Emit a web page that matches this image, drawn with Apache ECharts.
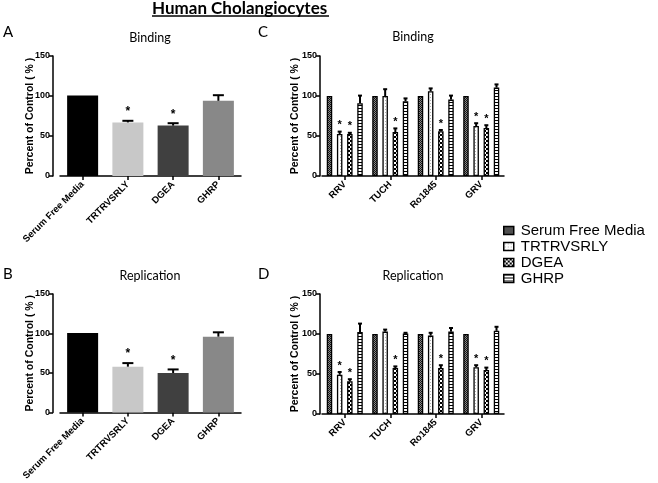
<!DOCTYPE html>
<html><head><meta charset="utf-8">
<script src="https://cdn.jsdelivr.net/npm/echarts@6/dist/echarts.min.js"></script>
<style>html,body{margin:0;padding:0;background:#fff}#c{width:658px;height:483px}</style>
</head><body><div id="c"></div>
<script>
// ---------- DATA ----------
const simpleCats = ['Serum Free Media', 'TRTRVSRLY', 'DGEA', 'GHRP'];
const bindA = [100.5, 67, 63, 94];
const bindAUpper = [100.5, 69, 66, 101];
const bindASig = [0, 1, 1, 0];
const repB = [100.5, 58, 50, 96];
const repBUpper = [100.5, 62.5, 54.5, 101.5];
const repBSig = [0, 1, 1, 0];

const strains = ['RRV', 'TUCH', 'Ro1845', 'GRV'];
const treatments = ['Serum Free Media', 'TRTRVSRLY', 'DGEA', 'GHRP'];

const bindC_SFM = [100, 100, 100, 100];
const bindC_TRT = [52.5, 100, 106, 62.5];
const bindC_DGEA = [52.5, 55, 56, 60];
const bindC_GHRP = [91, 93.5, 95.5, 110.5];
const bindCUp_SFM = [100, 100, 100, 100];
const bindCUp_TRT = [55.5, 108.5, 109.5, 66];
const bindCUp_DGEA = [54, 59.5, 57.5, 63.5];
const bindCUp_GHRP = [100.5, 97, 100.5, 114.5];

const repD_SFM = [100, 100, 100, 100];
const repD_TRT = [49, 103, 98, 58.5];
const repD_DGEA = [41, 57.5, 57.5, 55];
const repD_GHRP = [102.5, 100.5, 103, 104];
const repDUp_SFM = [100, 100, 100, 100];
const repDUp_TRT = [52.5, 105.5, 101.5, 61];
const repDUp_DGEA = [43.5, 59.5, 61, 58];
const repDUp_GHRP = [113, 101.5, 107.5, 109];

const sig_SFM = [0, 0, 0, 0];
const sig_TRT = [1, 0, 0, 1];
const sig_DGEA = [1, 1, 1, 1];
const sig_GHRP = [0, 0, 0, 0];

const yTicks = [0, 50, 100, 150];

// ---------- STYLE ----------
function pat(w, h, draw) {
  const c = document.createElement('canvas');
  c.width = w; c.height = h;
  const g = c.getContext('2d');
  draw(g);
  return { image: c, repeat: 'repeat' };
}
const patSFM = pat(2, 2, g => { g.fillStyle = '#8a8a8a'; g.fillRect(0,0,2,2); g.fillStyle = '#151515'; g.fillRect(0,0,1,1); g.fillRect(1,1,1,1); });
const patTRT = pat(3, 3, g => { g.fillStyle = '#fff'; g.fillRect(0,0,3,3); g.fillStyle = '#b0b0b0'; g.fillRect(1,1,1,1); });
const patDGEA = pat(4, 4, g => { g.fillStyle = '#000'; g.fillRect(0,0,4,4); g.fillStyle = '#fff'; g.fillRect(0,0,2,2); g.fillRect(2,2,2,2); });
const patGHRP = pat(1, 3, g => { g.fillStyle = '#fff'; g.fillRect(0,0,1,3); g.fillStyle = '#000'; g.fillRect(0,0,1,1); });
const patterns = [patSFM, patTRT, patDGEA, patGHRP];
const solidColors = ['#000000', '#c8c8c8', '#404040', '#888888'];

const AX = '"Liberation Sans", Arial, sans-serif';
const CAL = 'Lato, "Open Sans", sans-serif';

function yAxisCfg(gi, off, gap) {
  return {
    type: 'value', gridIndex: gi, min: yTicks[0], max: yTicks[yTicks.length - 1], interval: 50, offset: off,
    name: 'Percent of Control ( % )', nameLocation: 'middle', nameGap: gap, nameMoveOverlap: false,
    nameTextStyle: { fontFamily: AX, fontWeight: 'bold', fontSize: 10.5, color: '#000' },
    axisLine: { show: true, lineStyle: { color: '#000', width: 1.5 } },
    axisTick: { show: true, length: 4, lineStyle: { color: '#000', width: 1.5 } },
    axisLabel: { fontFamily: AX, fontWeight: 'bold', fontSize: 9, color: '#000', margin: 3 },
    splitLine: { show: false }
  };
}
function xAxisCfg(gi, cats) {
  return {
    type: 'category', gridIndex: gi, data: cats,
    axisLine: { show: true, lineStyle: { color: '#000', width: 1.5 } },
    axisTick: { show: true, alignWithLabel: true, length: 4, lineStyle: { color: '#000', width: 1.5 } },
    axisLabel: { fontFamily: AX, fontWeight: 'bold', fontSize: 9.5, color: '#000', rotate: 45, margin: 7, interval: 0 }
  };
}

function errRender(nBars, step, capW, lw, fs, sigOff) {
  return function (params, api) {
    const cat = api.value(0), bi = api.value(1), mean = api.value(2), up = api.value(3), sig = api.value(4);
    const off = (bi - (nBars - 1) / 2) * step;
    const p0 = api.coord([cat, mean]);
    const p1 = api.coord([cat, up]);
    const x = p0[0] + off;
    const children = [];
    if (up > mean) {
      children.push({ type: 'line', shape: { x1: x, y1: p0[1], x2: x, y2: p1[1] }, style: { stroke: '#000', lineWidth: lw } });
      children.push({ type: 'line', shape: { x1: x - capW / 2, y1: p1[1], x2: x + capW / 2, y2: p1[1] }, style: { stroke: '#000', lineWidth: lw } });
    }
    if (sig) {
      children.push({ type: 'text', style: { text: '*', x: x, y: p1[1] - sigOff, align: 'center', verticalAlign: 'bottom', font: 'bold ' + fs + 'px ' + AX, fill: '#000' } });
    }
    return { type: 'group', children: children };
  };
}

function simpleErrData(means, ups, sigs) {
  return means.map((m, i) => [i, 0, m, ups[i], sigs[i]]);
}
function groupErrData(meansList, upsList, sigsList) {
  const out = [];
  meansList.forEach((means, b) => means.forEach((m, i) => out.push([i, b, m, upsList[b][i], sigsList[b][i]])));
  return out;
}

const bindCMeans = [bindC_SFM, bindC_TRT, bindC_DGEA, bindC_GHRP];
const bindCUps = [bindCUp_SFM, bindCUp_TRT, bindCUp_DGEA, bindCUp_GHRP];
const repDMeans = [repD_SFM, repD_TRT, repD_DGEA, repD_GHRP];
const repDUps = [repDUp_SFM, repDUp_TRT, repDUp_DGEA, repDUp_GHRP];
const sigs = [sig_SFM, sig_TRT, sig_DGEA, sig_GHRP];

const BW = 5.5, GAP = 0.85;

const series = [];
// Panels A and B
[[bindA, bindAUpper, bindASig, 0], [repB, repBUpper, repBSig, 1]].forEach(([m, u, s, gi]) => {
  series.push({
    type: 'bar', name: 'simple' + gi, xAxisIndex: gi, yAxisIndex: gi, barWidth: 31,
    data: m.map((v, i) => ({ value: v, itemStyle: { color: solidColors[i] } })),
    silent: true
  });
  series.push({
    type: 'custom', name: 'err' + gi, xAxisIndex: gi, yAxisIndex: gi, z: 5,
    renderItem: errRender(1, 0, 11, 2, 12, 3),
    encode: { x: 0, y: 3 },
    data: simpleErrData(m, u, s), silent: true
  });
});
// Panels C and D
[[bindCMeans, bindCUps, 2], [repDMeans, repDUps, 3]].forEach(([ms, us, gi]) => {
  treatments.forEach((t, b) => {
    series.push({
      type: 'bar', name: t, xAxisIndex: gi, yAxisIndex: gi, barWidth: BW, barGap: (GAP * 100) + '%',
      itemStyle: { color: patterns[b], borderColor: '#000', borderWidth: 1.3 },
      data: ms[b], silent: true
    });
  });
  series.push({
    type: 'custom', name: 'errg' + gi, xAxisIndex: gi, yAxisIndex: gi, z: 5,
    renderItem: errRender(4, BW * (1 + GAP), 4, 2, 11, 1),
    encode: { x: 0, y: 3 },
    data: groupErrData(ms, us, sigs), silent: true
  });
});

const T = (text, left, top, size, weight, align) => ({
  text: text, left: left, top: top, padding: 0, textAlign: align || 'left',
  textStyle: { fontFamily: CAL, fontWeight: weight || 'normal', fontSize: size, color: '#000' }
});

const option = {
  animation: false,
  backgroundColor: '#fff',
  title: [
    T('Human Cholangiocytes', 152, 0, 17, 'bold'),
    T('A', 3, 25, 15),
    T('Binding', 150, 31, 12.5, 'normal', 'center'),
    T('C', 258, 25, 15),
    T('Binding', 413, 30, 12.5, 'normal', 'center'),
    T('B', 3, 267, 15),
    T('Replication', 150, 269, 12.5, 'normal', 'center'),
    T('D', 258, 267, 15),
    T('Replication', 413, 269, 12.5, 'normal', 'center')
  ],
  graphic: [
    { type: 'line', shape: { x1: 152, y1: 16, x2: 329, y2: 16 }, style: { stroke: '#000', lineWidth: 1.5 } }
  ],
  legend: {
    data: treatments, orient: 'vertical', left: 503, top: 223, itemWidth: 10, itemHeight: 8, itemGap: 1,
    icon: 'rect', selectedMode: false, padding: 0,
    itemStyle: { borderColor: '#000', borderWidth: 1.5 },
    textStyle: { fontFamily: AX, fontSize: 15, lineHeight: 14, color: '#000', padding: [0, 0, 0, 2] }
  },
  grid: [
    { left: 60, top: 56, width: 181, height: 120 },
    { left: 60, top: 294, width: 181, height: 120 },
    { left: 322, top: 56, width: 182, height: 120 },
    { left: 322, top: 294, width: 182, height: 120 }
  ],
  xAxis: [xAxisCfg(0, simpleCats), xAxisCfg(1, simpleCats), xAxisCfg(2, strains), xAxisCfg(3, strains)],
  yAxis: [yAxisCfg(0, 7, 17), yAxisCfg(1, 7, 17), yAxisCfg(2, 2, 19), yAxisCfg(3, 2, 19)],
  series: series
};
const chart = echarts.init(document.getElementById('c'), null, { renderer: 'canvas' });
chart.setOption(option);
</script></body></html>
